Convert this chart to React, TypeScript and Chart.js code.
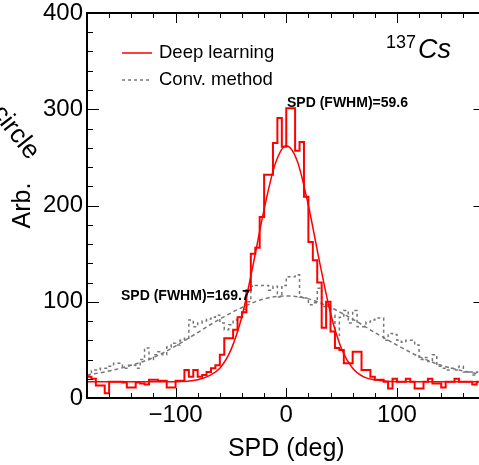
import React, { useEffect, useRef } from "react";
import { Chart, registerables } from "chart.js";

Chart.register(...registerables);

// ---- data ----
const BIN_LOW = -180;
const BIN_WIDTH = 4;

const deepLearningCounts = [
  22, 20, 13, 13, 5, 17, 17, 17, 16, 11,
  11, 16, 15, 14, 19, 19, 18, 18, 11, 11,
  18, 18, 29, 22, 29, 22, 24, 27, 31, 34,
  45, 62, 62, 71, 84, 89, 112, 150, 156, 188,
  232, 232, 265, 291, 261, 301, 301, 257, 266, 209,
  162, 143, 120, 73, 100, 69, 52, 50, 36, 36,
  48, 48, 29, 29, 22, 19, 19, 17, 10, 20,
  17, 17, 20, 17, 10, 10, 17, 20, 15, 15,
  11, 17, 17, 20, 17, 17, 17, 14, 17, 17,
];

const convMethodCounts = [
  24, 29, 29, 31, 31, 33, 36, 36, 31, 34,
  34, 31, 40, 52, 40, 45, 48, 45, 53, 57,
  55, 60, 62, 81, 74, 78, 80, 82, 84, 86,
  78, 71, 76, 81, 84, 92, 100, 116, 117, 117,
  117, 112, 116, 105, 117, 126, 126, 128, 105, 104,
  97, 99, 114, 95, 97, 86, 65, 84, 91, 78,
  91, 74, 74, 79, 81, 83, 83, 60, 67, 66,
  60, 58, 60, 60, 55, 40, 42, 38, 45, 33,
  31, 29, 31, 29, 33, 27, 27, 24, 27, 25,
];

const deepFitX = [-180, -100, -80, -70, -60, -50, -40, -30, -20, -10, 0, 10, 20, 30, 40, 50, 60, 70, 80, 100, 180];
const deepFitY = [17, 17, 19, 23, 31, 50, 85, 138, 196, 243, 262, 246, 200, 142, 88, 51, 31, 22, 19, 17, 17];

const convFitX = [-180, -160, -140, -120, -100, -80, -60, -40, -20, 0, 20, 40, 60, 80, 100, 120, 140, 160, 180];
const convFitY = [24, 28, 34, 42, 54, 68, 82, 94, 103, 106, 103, 94, 82, 68, 55, 43, 34, 28, 24];

const X_TICKS = [-100, 0, 100];
const Y_TICKS = [0, 100, 200, 300, 400];
const LEGEND_LABELS = ["Deep learning", "Conv. method"];
const FWHM_DEEP = "SPD (FWHM)=59.6";
const FWHM_CONV = "SPD (FWHM)=169.7";

const RED = "#ff0000";
const GRAY = "#777777";
const FONT = "'Liberation Sans', Arial, Helvetica, sans-serif";

function histPoints(counts: number[]) {
  const pts = counts.map((v, i) => ({ x: BIN_LOW + i * BIN_WIDTH, y: v }));
  pts.push({ x: BIN_LOW + counts.length * BIN_WIDTH, y: counts[counts.length - 1] });
  return pts;
}

function curvePoints(xs: number[], ys: number[]) {
  return xs.map((x, i) => ({ x, y: ys[i] }));
}

const rootFramePlugin = {
  id: "rootFrame",
  afterDatasetsDraw(chart: any) {
    const { ctx, chartArea: a, scales } = chart;
    const xs = scales.x;
    const ys = scales.y;
    ctx.save();
    ctx.strokeStyle = "#000";
    ctx.lineWidth = 1;
    ctx.beginPath();
    for (let v = -180; v <= 180; v += 20) {
      const px = Math.round(xs.getPixelForValue(v)) + 0.5;
      const len = v % 100 === 0 ? 10 : 5;
      ctx.moveTo(px, a.bottom);
      ctx.lineTo(px, a.bottom - len);
      ctx.moveTo(px, a.top);
      ctx.lineTo(px, a.top + len);
    }
    for (let v = 0; v <= 400; v += 20) {
      const py = Math.round(ys.getPixelForValue(v)) + 0.5;
      const len = v % 100 === 0 ? 12 : 6;
      ctx.moveTo(a.left, py);
      ctx.lineTo(a.left + len, py);
      ctx.moveTo(a.right, py);
      ctx.lineTo(a.right - len, py);
    }
    ctx.stroke();
    ctx.lineWidth = 2;
    ctx.strokeRect(a.left, a.top, a.right - a.left, a.bottom - a.top);

    // legend
    ctx.lineWidth = 1.5;
    ctx.strokeStyle = RED;
    ctx.beginPath();
    ctx.moveTo(122, 53);
    ctx.lineTo(152, 53);
    ctx.stroke();
    ctx.strokeStyle = GRAY;
    ctx.setLineDash([3, 3]);
    ctx.beginPath();
    ctx.moveTo(122, 80);
    ctx.lineTo(152, 80);
    ctx.stroke();
    ctx.setLineDash([]);
    ctx.fillStyle = "#000";
    ctx.textBaseline = "middle";
    ctx.textAlign = "left";
    ctx.font = `18.5px ${FONT}`;
    ctx.fillText(LEGEND_LABELS[0], 159, 53);
    ctx.fillText(LEGEND_LABELS[1], 159, 80);

    // FWHM labels
    ctx.font = `bold 14px ${FONT}`;
    ctx.fillText(FWHM_DEEP, 287, 103);
    ctx.fillText(FWHM_CONV, 121, 296);

    // isotope label
    ctx.textBaseline = "alphabetic";
    ctx.font = `18px ${FONT}`;
    ctx.fillText("137", 386, 48);
    ctx.font = `italic 27px ${FONT}`;
    ctx.fillText("Cs", 418, 58);

    // clipped rotated label at the left edge
    ctx.save();
    ctx.translate(-9, 113);
    ctx.rotate((52 * Math.PI) / 180);
    ctx.font = `26px ${FONT}`;
    ctx.fillStyle = "#000";
    ctx.fillText("circle", 0, 0);
    ctx.restore();

    ctx.restore();
  },
};

export default function App() {
  const ref = useRef<HTMLCanvasElement>(null);

  useEffect(() => {
    const canvas = ref.current;
    if (!canvas) return;
    const chart = new Chart(canvas, {
      type: "line",
      data: {
        datasets: [
          {
            label: "Deep learning fit",
            data: curvePoints(deepFitX, deepFitY),
            borderColor: RED,
            borderWidth: 1.5,
            pointRadius: 0,
            cubicInterpolationMode: "monotone",
            fill: false,
            order: 0,
          },
          {
            label: LEGEND_LABELS[0],
            data: histPoints(deepLearningCounts),
            borderColor: RED,
            borderWidth: 2,
            pointRadius: 0,
            stepped: "before",
            fill: false,
            order: 1,
          },
          {
            label: "Conv. method fit",
            data: curvePoints(convFitX, convFitY),
            borderColor: GRAY,
            borderWidth: 1.5,
            borderDash: [4, 3],
            pointRadius: 0,
            cubicInterpolationMode: "monotone",
            fill: false,
            order: 2,
          },
          {
            label: LEGEND_LABELS[1],
            data: histPoints(convMethodCounts),
            borderColor: GRAY,
            borderWidth: 1.5,
            borderDash: [3, 3],
            pointRadius: 0,
            stepped: "before",
            fill: false,
            order: 3,
          },
        ],
      } as any,
      options: {
        animation: false,
        responsive: false,
        maintainAspectRatio: false,
        devicePixelRatio: 1,
        layout: { padding: { left: 0, top: 13, right: 4.5, bottom: 0 } },
        plugins: { legend: { display: false }, tooltip: { enabled: false } },
        events: [],
        scales: {
          x: {
            type: "linear",
            min: -180,
            max: 180,
            grid: { display: false, drawTicks: false },
            border: { display: false },
            afterBuildTicks: (scale: any) => {
              scale.ticks = X_TICKS.map((v) => ({ value: v }));
            },
            afterFit: (scale: any) => {
              scale.height = 67;
              scale.paddingLeft = 0;
              scale.paddingRight = 0;
              scale.paddingTop = 0;
              scale.paddingBottom = 0;
            },
            ticks: {
              color: "#000",
              font: { family: FONT, size: 24 },
              padding: 3,
              maxRotation: 0,
              callback: (v: any) => (Number(v) < 0 ? "\u2212" + Math.abs(Number(v)) : String(v)),
            },
            title: {
              display: true,
              text: "SPD (deg)",
              color: "#000",
              font: { family: FONT, size: 25 },
              padding: { top: 0, bottom: 1 },
            },
          },
          y: {
            type: "linear",
            min: 0,
            max: 400,
            grid: { display: false, drawTicks: false },
            border: { display: false },
            afterBuildTicks: (scale: any) => {
              scale.ticks = Y_TICKS.map((v) => ({ value: v }));
            },
            afterFit: (scale: any) => {
              scale.width = 87;
              scale.paddingLeft = 0;
              scale.paddingRight = 0;
              scale.paddingTop = 0;
              scale.paddingBottom = 0;
            },
            ticks: {
              color: "#000",
              font: { family: FONT, size: 24 },
              padding: 4,
            },
            title: {
              display: true,
              text: "Arb.",
              color: "#000",
              font: { family: FONT, size: 25 },
              padding: { top: 8, bottom: 0 },
            },
          },
        },
      } as any,
      plugins: [rootFramePlugin],
    });
    return () => chart.destroy();
  }, []);

  return (
    <div
      style={{
        position: "fixed",
        left: 0,
        top: 0,
        width: 479,
        height: 465,
        overflow: "hidden",
        background: "#fff",
      }}
    >
      <canvas ref={ref} width={490} height={465} style={{ display: "block", width: 490, height: 465 }} />
    </div>
  );
}
